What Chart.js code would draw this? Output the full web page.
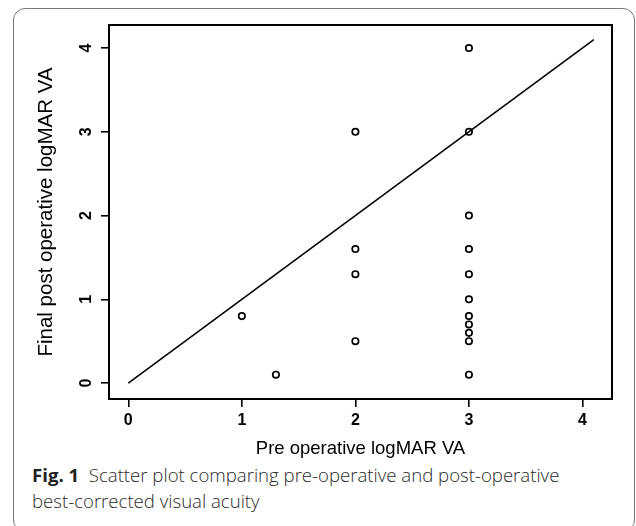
<!DOCTYPE html>
<html>
<head>
<meta charset="utf-8">
<script src="https://cdn.jsdelivr.net/npm/chart.js@4"></script>
<style>
  body { margin: 0; background: #fff; width: 636px; height: 526px; overflow: hidden; position: relative; }
  #frame { position: absolute; left: 13px; top: 8px; width: 622px; height: 524px; border: 1.5px solid #777; border-radius: 12px; box-sizing: border-box; }
  #wrap { position: absolute; left: 0; top: 0; width: 636px; height: 460px; }
  #caption { position: absolute; left: 32px; top: 462px; width: 604px; font-family: "Open Sans", sans-serif; font-size: 18.6px; font-weight: 300; line-height: 26px; color: #2a2a2a; }
  #caption b { font-weight: 700; color: #222; }
</style>
</head>
<body>
<div id="frame"></div>
<div id="wrap"><canvas id="chart-area"></canvas></div>
<div id="caption"><b>Fig. 1</b>&nbsp; Scatter plot comparing pre-operative and post-operative<br>best-corrected visual acuity</div>
<script>
// data
var preVA  = [1, 1.3, 2, 2, 2, 2, 3, 3, 3, 3, 3, 3, 3, 3, 3, 3, 3];
var postVA = [0.8, 0.1, 3, 1.6, 1.3, 0.5, 4, 3, 2, 1.6, 1.3, 1.0, 0.8, 0.7, 0.6, 0.5, 0.1];
var lineX = [0, 4.1];
var lineY = [0, 4.1];
var tickVals = [0, 1, 2, 3, 4];

var pts = preVA.map(function (v, i) { return { x: v, y: postVA[i] }; });
var linePts = lineX.map(function (v, i) { return { x: v, y: lineY[i] }; });

var axisFont = "'Liberation Sans', Arial, sans-serif";

// box round the plot area + rotated y labels like R
var rStyle = {
  id: "rStyle",
  afterDraw: function (chart) {
    var c = chart.ctx, a = chart.chartArea, ys = chart.scales.y;
    c.save();
    c.strokeStyle = "#000";
    c.lineWidth = 2;
    c.strokeRect(a.left, a.top, a.right - a.left, a.bottom - a.top);
    c.fillStyle = "#000";
    c.font = "bold 16px " + axisFont;
    c.textAlign = "center";
    c.textBaseline = "middle";
    tickVals.forEach(function (v) {
      c.save();
      c.translate(a.left - 22, ys.getPixelForValue(v));
      c.rotate(-Math.PI / 2);
      c.fillText(String(v), 0, 0);
      c.restore();
    });
    c.restore();
  }
};

var config = {
  type: "scatter",
  data: {
    datasets: [
      {
        data: pts,
        pointStyle: "circle",
        pointRadius: 3.2,
        borderColor: "#000",
        backgroundColor: "rgba(0,0,0,0)",
        borderWidth: 1.7
      },
      {
        data: linePts,
        showLine: true,
        pointRadius: 0,
        borderColor: "#000",
        borderWidth: 1.6
      }
    ]
  },
  options: {
    responsive: true,
    maintainAspectRatio: false,
    animation: false,
    events: [],
    layout: { padding: { left: 30, top: 25, right: 24, bottom: 0 } },
    plugins: { legend: { display: false }, tooltip: { enabled: false } },
    scales: {
      x: {
        type: "linear",
        min: -0.17,
        max: 4.26,
        afterBuildTicks: function (s) { s.ticks = tickVals.map(function (v) { return { value: v }; }); },
        afterFit: function (s) { s.height = 61; },
        grid: { display: true, drawOnChartArea: false, drawTicks: true, tickLength: 8, color: "#000", lineWidth: 1.6 },
        border: { display: true, color: "#000", width: 2 },
        ticks: { color: "#000", padding: 4, maxRotation: 0, font: { family: axisFont, size: 16, weight: "bold" } },
        title: { display: true, text: "Pre operative logMAR VA", color: "#000", padding: { top: 0, bottom: 0 }, font: { family: axisFont, size: 18.5 } }
      },
      y: {
        type: "linear",
        min: -0.19,
        max: 4.275,
        afterBuildTicks: function (s) { s.ticks = tickVals.map(function (v) { return { value: v }; }); },
        afterFit: function (s) { s.width = 79; },
        grid: { display: true, drawOnChartArea: false, drawTicks: true, tickLength: 8, color: "#000", lineWidth: 1.6 },
        border: { display: true, color: "#000", width: 2 },
        ticks: { display: false },
        title: { display: true, text: "Final post operative logMAR VA", color: "#000", padding: { top: 4, bottom: 4 }, font: { family: axisFont, size: 20.5 } }
      }
    }
  },
  plugins: [rStyle]
};

var ctx = document.getElementById("chart-area").getContext("2d");
var myChart = new Chart(ctx, config);
</script>
</body>
</html>
